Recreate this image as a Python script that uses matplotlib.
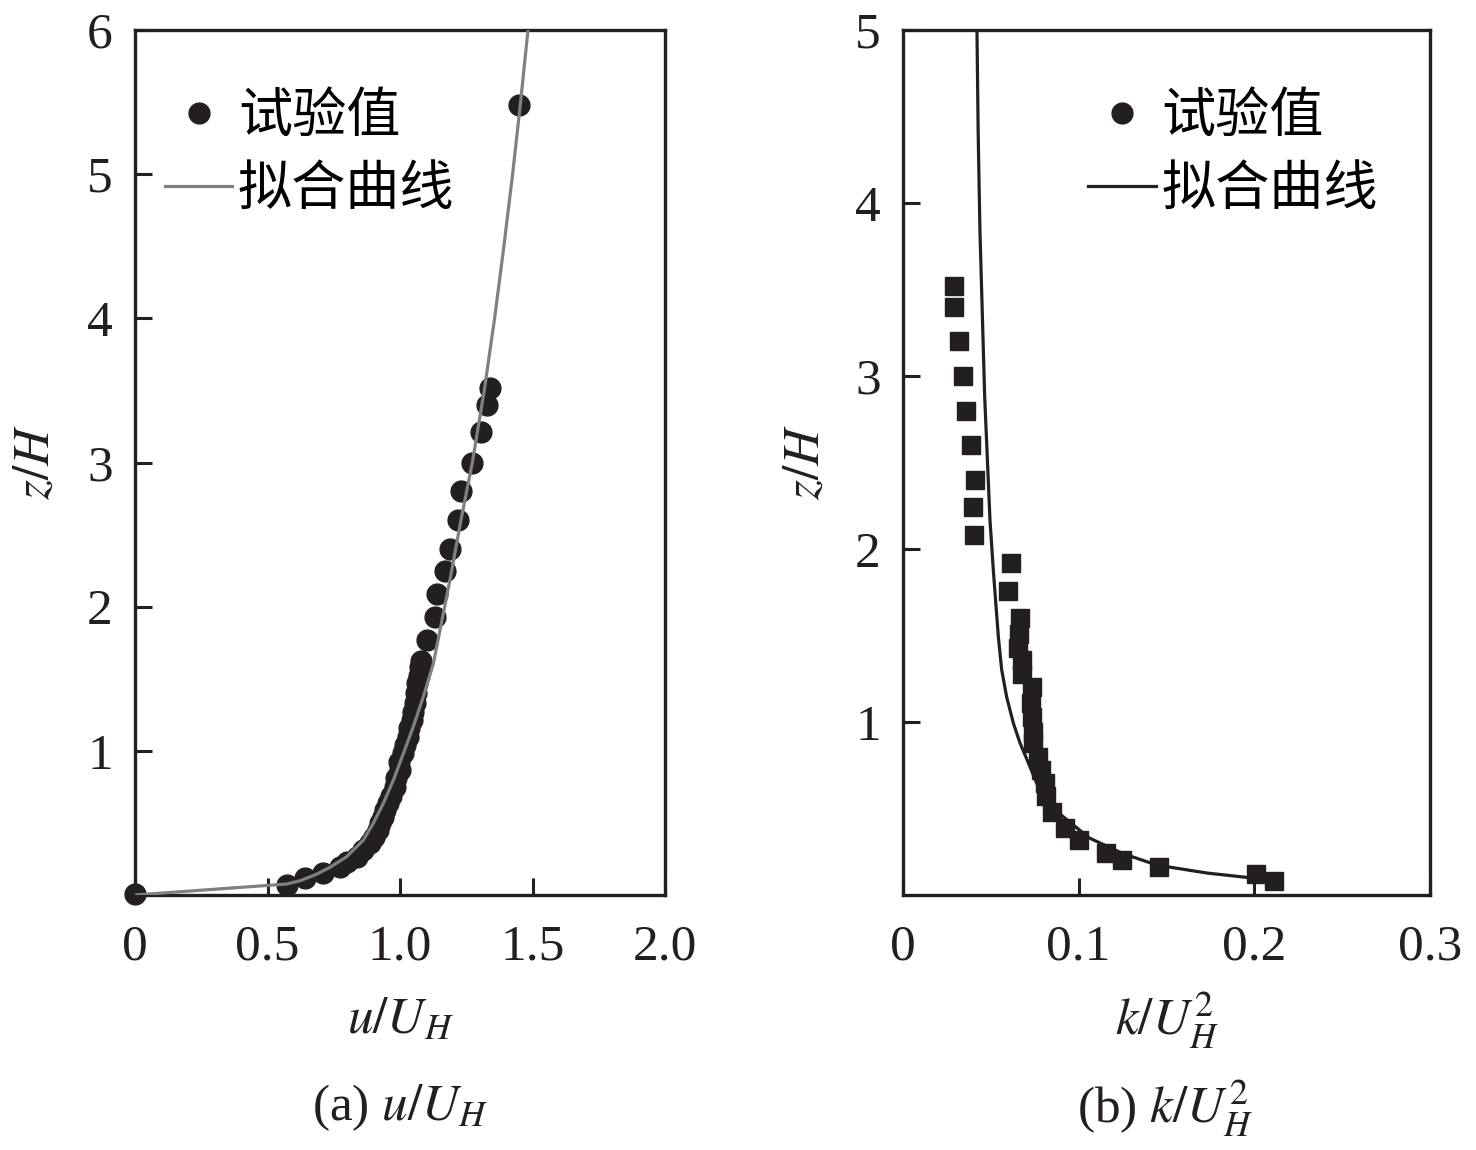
import matplotlib
matplotlib.use("Agg")
import matplotlib.pyplot as plt
from matplotlib.lines import Line2D
from matplotlib.font_manager import FontProperties

plt.rcParams['font.family'] = ['Liberation Serif', 'DejaVu Serif']
plt.rcParams['mathtext.fontset'] = 'stix'

# ---------------- data (a) ----------------
u_exp = [0.0, 0.572, 0.642, 0.711, 0.774, 0.80, 0.836, 0.86, 0.887, 0.90, 0.918,
         0.925, 0.937, 0.945, 0.956, 0.965, 0.981, 0.985, 1.0, 0.995, 1.013, 1.02,
         1.031, 1.035, 1.044, 1.05, 1.057, 1.06, 1.063, 1.07, 1.075, 1.08, 1.10,
         1.132, 1.14, 1.17, 1.19, 1.22, 1.23, 1.27, 1.305, 1.33, 1.34, 1.45]
z_exp = [0.01, 0.069, 0.116, 0.150, 0.196, 0.23, 0.266, 0.31, 0.358, 0.40, 0.451,
         0.50, 0.542, 0.59, 0.635, 0.69, 0.751, 0.81, 0.867, 0.92, 0.983, 1.04,
         1.098, 1.16, 1.214, 1.27, 1.329, 1.40, 1.468, 1.52, 1.583, 1.62, 1.768,
         1.93, 2.09, 2.25, 2.40, 2.60, 2.80, 3.00, 3.21, 3.40, 3.52, 5.48]

u_fit = [0.0, 0.572, 0.625, 0.68, 0.736, 0.799, 0.862, 0.899, 0.937, 0.975, 1.013,
         1.05, 1.088, 1.126, 1.151, 1.19, 1.23, 1.273, 1.318, 1.357, 1.392, 1.425,
         1.455, 1.483]
z_fit = [0.0, 0.076, 0.10, 0.14, 0.192, 0.266, 0.381, 0.497, 0.635, 0.797, 0.983,
         1.167, 1.375, 1.606, 1.838, 2.2, 2.6, 3.0, 3.5, 4.0, 4.5, 5.0, 5.5, 6.0]

# ---------------- data (b) ----------------
k_exp = [0.029, 0.029, 0.032, 0.034, 0.036, 0.0387, 0.041, 0.040, 0.0405, 0.0615,
         0.060, 0.0666, 0.066, 0.0655, 0.0677, 0.068, 0.0734, 0.073, 0.0734, 0.074,
         0.074, 0.077, 0.0785, 0.081, 0.0814, 0.085, 0.092, 0.100, 0.1155, 0.1246,
         0.146, 0.2009, 0.211]
zk_exp = [3.52, 3.40, 3.20, 3.00, 2.80, 2.60, 2.40, 2.24, 2.08, 1.92,
          1.76, 1.60, 1.51, 1.43, 1.36, 1.28, 1.20, 1.11, 1.03, 0.94,
          0.88, 0.80, 0.72, 0.65, 0.57, 0.48, 0.39, 0.32, 0.24, 0.20,
          0.16, 0.12, 0.08]

k_fit = [0.207, 0.199, 0.173, 0.1445, 0.125, 0.106, 0.0915, 0.0846, 0.077, 0.0714,
         0.0666, 0.0628, 0.059, 0.0562, 0.0543, 0.0528, 0.0514, 0.0495, 0.0465,
         0.0438, 0.0428, 0.0421]
zk_fit = [0.087, 0.098, 0.127, 0.173, 0.24, 0.33, 0.45, 0.509, 0.624, 0.763,
          0.879, 0.994, 1.145, 1.30, 1.49, 1.69, 1.88, 2.17, 2.88,
          3.84, 4.4, 5.0]

xticks_a = [0, 0.5, 1.0, 1.5, 2.0]
xticklabels_a = ['0', '0.5', '1.0', '1.5', '2.0']
yticks_a = [1, 2, 3, 4, 5, 6]
xticks_b = [0, 0.1, 0.2, 0.3]
xticklabels_b = ['0', '0.1', '0.2', '0.3']
yticks_b = [1, 2, 3, 4, 5]
legend_labels = ['试验值', '拟合曲线']

DARK = '#231f20'
GRAY = '#808080'
FS = 37

fig = plt.figure(figsize=(14.76, 11.5), dpi=100)
W, H = 1476, 1150
axa = fig.add_axes([135 / W, (H - 895) / H, 530 / W, 865 / H])
axb = fig.add_axes([903 / W, (H - 895) / H, 527 / W, 865 / H])

cjk = FontProperties(family=['Noto Sans CJK SC', 'DejaVu Sans'], size=39)

def style(ax):
    for s in ax.spines.values():
        s.set_linewidth(2.4)
        s.set_color(DARK)
    ax.tick_params(direction='in', length=12, width=2.2, color=DARK,
                   labelsize=FS, labelcolor=DARK, top=False, right=False)
    ax.tick_params(axis='x', pad=21)
    ax.tick_params(axis='y', pad=16)

# (a)
axa.plot(u_fit, z_fit, color=GRAY, lw=2.3, zorder=3)
axa.plot(u_exp, z_exp, 'o', ms=15, color=DARK, mec=DARK, zorder=2, clip_on=False)
axa.set_xlim(0, 2.0)
axa.set_ylim(0, 6)
axa.set_xticks(xticks_a)
axa.set_xticklabels(xticklabels_a)
axa.set_yticks(yticks_a)
style(axa)
axa.set_ylabel('$z/H$', fontsize=FS, color=DARK)
axa.yaxis.set_label_coords(-0.1415, 0.5)
axa.set_xlabel('$u/U_H$', fontsize=FS, color=DARK)
axa.xaxis.set_label_coords(0.5, -0.145)
axa.xaxis.label.set_va('center')

ha = [Line2D([], [], ls='none', marker='o', ms=15, color=DARK),
      Line2D([], [], color=GRAY, lw=2.3)]
axa.legend(ha, legend_labels, prop=cjk, frameon=False, loc='upper left',
           bbox_to_anchor=(0.056, 0.932), borderpad=0, borderaxespad=0,
           handlelength=1.25, handletextpad=0.1, labelspacing=0.33)

# (b)
axb.plot(k_fit, zk_fit, color=DARK, lw=2.3, zorder=3)
axb.plot(k_exp, zk_exp, 's', ms=13, color=DARK, mec=DARK, zorder=2)
axb.set_xlim(0, 0.3)
axb.set_ylim(0, 5)
axb.set_xticks(xticks_b)
axb.set_xticklabels(xticklabels_b)
axb.set_yticks(yticks_b)
style(axb)
axb.set_ylabel('$z/H$', fontsize=FS, color=DARK)
axb.yaxis.set_label_coords(-0.1385, 0.5)
axb.set_xlabel('$k/U_H^2$', fontsize=FS, color=DARK)
axb.xaxis.set_label_coords(0.5, -0.145)
axb.xaxis.label.set_va('center')

hb = [Line2D([], [], ls='none', marker='o', ms=15, color=DARK),
      Line2D([], [], color=DARK, lw=2.3)]
axb.legend(hb, legend_labels, prop=cjk, frameon=False, loc='upper left',
           bbox_to_anchor=(0.351, 0.932), borderpad=0, borderaxespad=0,
           handlelength=1.25, handletextpad=0.1, labelspacing=0.33)

fig.text(400 / W, (H - 1108) / H, '(a) $u/U_H$', ha='center', va='center',
         fontsize=FS, color=DARK)
fig.text(1165 / W, (H - 1108) / H, '(b) $k/U_H^2$', ha='center', va='center',
         fontsize=FS, color=DARK)

fig.savefig('out.png', dpi=100)
